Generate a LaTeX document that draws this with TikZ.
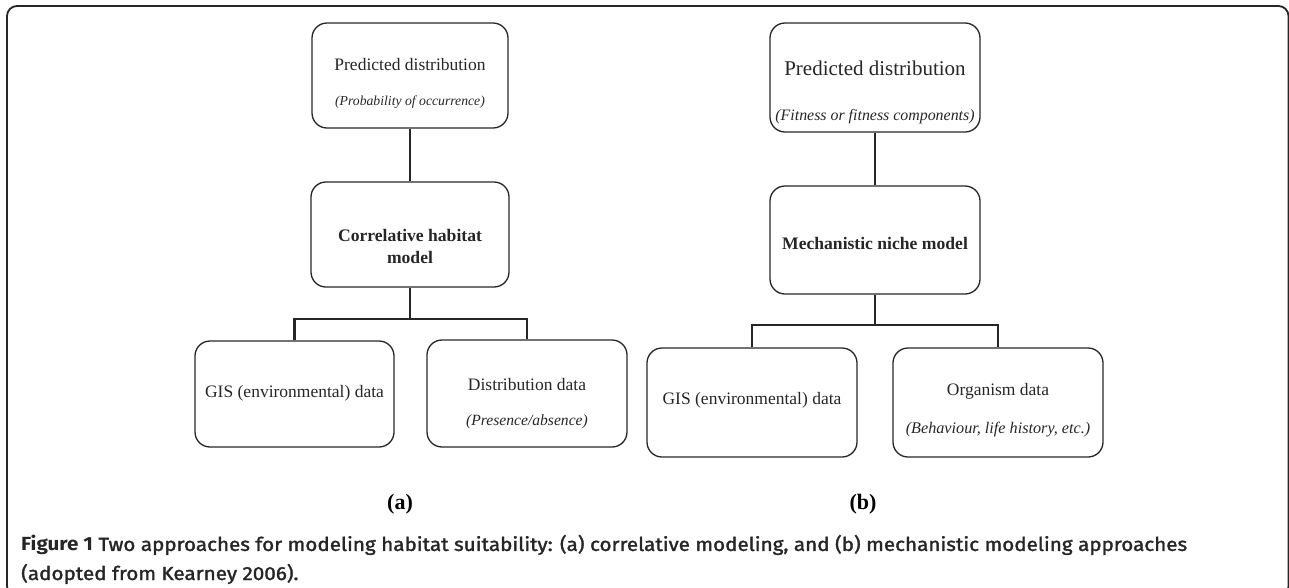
\documentclass[tikz,border=0pt]{standalone}
\usepackage{fontspec}
\usepackage{graphicx}
\setmainfont{Liberation Serif}
\newfontfamily\capfont[BoldFont={Fira Sans Bold}]{Fira Sans}
\newfontfamily\capfontm[FakeBold=1.6]{Fira Sans}
\newsavebox\capboxA
\begin{document}
\begin{tikzpicture}[x=1pt,y=-1pt,
  box/.style={draw=black!85, line width=1.3pt, rounded corners=15pt, inner sep=0pt},
  conn/.style={draw=black!85, line width=2.4pt},
  maintxt/.style={font=\fontsize{17.5}{21}\selectfont, text=black!85, inner sep=0pt, anchor=center},
  bigtxt/.style={font=\fontsize{21}{25}\selectfont, text=black!85, inner sep=0pt},
  boldtxt/.style={font=\fontsize{17.6}{22}\selectfont\bfseries, text=black!85, inner sep=0pt, align=center},
  ittxt/.style={text=black!85, inner sep=0pt},
  paneltxt/.style={font=\fontsize{22}{26}\selectfont\bfseries, text=black, inner sep=0pt},
  captxt/.style={text=black!85, inner sep=0pt, anchor=west}
]
\useasboundingbox (0,0) rectangle (1289,587);
\clip (0,0) rectangle (1289,587);
\draw[line width=1.8pt, draw=black!85, rounded corners=10pt] (7,6) rectangle (1288.5,596);

% ---- panel (a)
\node[box, minimum width=196pt, minimum height=105pt] (lt) at (410,75.5) {};
\node[box, minimum width=198pt, minimum height=105pt] (lm) at (410,234.5) {};
\node[box, minimum width=199pt, minimum height=106pt] (lb1) at (294.5,394) {};
\node[box, minimum width=200pt, minimum height=107pt] (lb2) at (527,393.5) {};
\node[maintxt] (lt1) at (410,65) {Predicted distribution};
\node[ittxt, font=\fontsize{13.7}{16}\selectfont\itshape] (lt2) at (410,102) {(Probability of occurrence)};
\node[boldtxt] (lm1) at (410,246) {Correlative habitat\\model};
\node[maintxt] (lb1t) at (294.5,393) {GIS (environmental) data};
\node[maintxt] (lb2t) at (527,385) {Distribution data};
\node[ittxt, font=\fontsize{15.6}{18}\selectfont\itshape] (lb2i) at (527,422) {(Presence/absence)};
\coordinate (lj) at (410,319);
\draw[conn] (lt.south) -- (lm.north);
\draw[conn] (lm.south) -- (lj);
\draw[conn] (lb1.north) -- (lb1.north |- lj) -- (lb2.north |- lj) -- (lb2.north);
\node[paneltxt] (pa) at (400,504) {(a)};

% ---- panel (b)
\node[box, minimum width=210pt, minimum height=109pt] (rt) at (875,77.5) {};
\node[box, minimum width=210pt, minimum height=108pt] (rm) at (875,240) {};
\node[box, minimum width=210pt, minimum height=109pt] (rb1) at (752,402.5) {};
\node[box, minimum width=210pt, minimum height=109pt] (rb2) at (998,402.5) {};
\node[bigtxt] (rt1) at (875,68) {Predicted distribution};
\node[ittxt, font=\fontsize{15.9}{18}\selectfont\itshape] (rt2) at (875,117) {(Fitness or fitness components)};
\node[boldtxt] (rm1) at (875,243) {Mechanistic niche model};
\node[maintxt] (rb1t) at (752,400) {GIS (environmental) data};
\node[maintxt] (rb2t) at (998,391) {Organism data};
\node[ittxt, font=\fontsize{16.2}{19}\selectfont\itshape] (rb2i) at (998,430) {(Behaviour, life history, etc.)};
\coordinate (rj) at (875,325);
\draw[conn] (rt.south) -- (rm.north);
\draw[conn] (rm.south) -- (rj);
\draw[conn] (rb1.north) -- (rb1.north |- rj) -- (rb2.north |- rj) -- (rb2.north);
\node[paneltxt] (pb) at (863,504) {(b)};

% ---- caption
\node[captxt] (cap1) at (21,545) {\sbox\capboxA{\fontsize{19}{22}\selectfont\capfont\textbf{Figure 1} \capfontm Two approaches for modeling habitat suitability: (a) correlative modeling, and (b) mechanistic modeling approaches}%
  \pgfmathsetmacro\capscale{1166/\the\wd\capboxA}\global\let\capscaleG\capscale
  \scalebox{\capscale}[1]{\usebox\capboxA}};
\node[captxt] (cap2) at (21,574) {\scalebox{\capscaleG}[1]{\fontsize{19}{22}\selectfont\capfontm (adopted from Kearney 2006).}};
\end{tikzpicture}
\end{document}
